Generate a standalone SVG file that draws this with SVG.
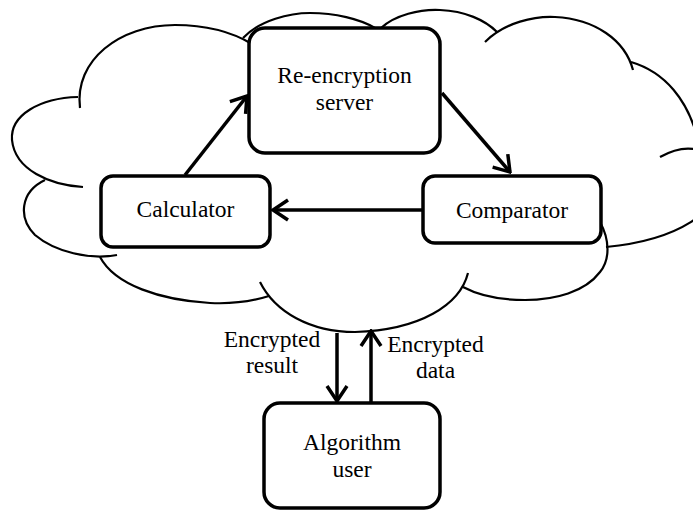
<svg xmlns="http://www.w3.org/2000/svg" width="693" height="512" viewBox="0 0 693 512">
<style>
.cloud{fill:none;stroke:#000;stroke-width:2.2;stroke-linecap:butt}
.box{fill:#fff;stroke:#000;stroke-width:3.5}
.conn{fill:none;stroke:#000;stroke-width:3.5}
text{font-family:"Liberation Serif","Times New Roman",serif;font-size:23.5px;fill:#000;text-anchor:middle}
</style>
<defs>
<marker id="arr" markerUnits="userSpaceOnUse" viewBox="-18 -12 20 24" markerWidth="20" markerHeight="24" refX="0" refY="0" orient="auto">
<path d="M-15,-10 L0,0 L-15,10" fill="none" stroke="#000" stroke-width="3.5"/>
</marker>
</defs>
<rect width="693" height="512" fill="#fff"/>
<g id="cloud">
<path class="cloud" d="M80,108 C74,60 120,25 175,25 C205,25 232,32 252,44"/>
<path class="cloud" d="M243,38 C260,20 290,13 310,13 C335,13 360,19 375,28"/>
<path class="cloud" d="M381,28 C395,15 420,9 440,10 C465,11 485,20 497,32"/>
<path class="cloud" d="M485,42 C505,22 535,16 555,17 C595,19 625,40 633,70"/>
<path class="cloud" d="M631,62 C665,72 688,100 698,140"/>
<path class="cloud" d="M660,157 C690,140 720,150 720,180 C720,210 680,240 606,247"/>
<path class="cloud" d="M600,222 C610,240 610,260 600,272 C585,292 555,300 525,300 C500,300 478,295 463,287"/>
<path class="cloud" d="M468,273 C460,305 420,330 355,332 C310,332 275,312 260,282"/>
<path class="cloud" d="M269,296 C250,302 230,304 210,303 C160,300 115,285 100,257"/>
<path class="cloud" d="M117,255 C90,260 55,252 35,235 C18,218 20,192 45,180"/>
<path class="cloud" d="M83,187 C50,185 15,170 12,140 C10,115 40,98 78,97"/>
</g>
<g id="connectors">
<line class="conn" x1="185" y1="175" x2="247" y2="96" marker-end="url(#arr)"/>
<line class="conn" x1="442" y1="93" x2="510" y2="172" marker-end="url(#arr)"/>
<line class="conn" x1="423" y1="210" x2="273" y2="210" marker-end="url(#arr)"/>
<line class="conn" x1="337" y1="333" x2="337" y2="401" marker-end="url(#arr)"/>
<line class="conn" x1="371" y1="403" x2="371" y2="331" marker-end="url(#arr)"/>
</g>
<g id="reencryption">
<rect class="box" x="249" y="28" width="191" height="125" rx="16"/>
<text x="344.5" y="83">Re-encryption</text>
<text x="344.5" y="110">server</text>
</g>
<g id="calculator">
<rect class="box" x="101" y="176" width="169" height="71" rx="12"/>
<text x="185.5" y="217">Calculator</text>
</g>
<g id="comparator">
<rect class="box" x="423" y="176" width="178" height="67" rx="12"/>
<text x="512" y="218">Comparator</text>
</g>
<g id="user">
<rect class="box" x="264" y="403" width="176" height="105" rx="16"/>
<text x="352" y="450">Algorithm</text>
<text x="352" y="477">user</text>
</g>
<g id="labels">
<text x="272" y="347">Encrypted</text>
<text x="272" y="373">result</text>
<text x="435.5" y="352">Encrypted</text>
<text x="435.5" y="378">data</text>
</g>
</svg>
